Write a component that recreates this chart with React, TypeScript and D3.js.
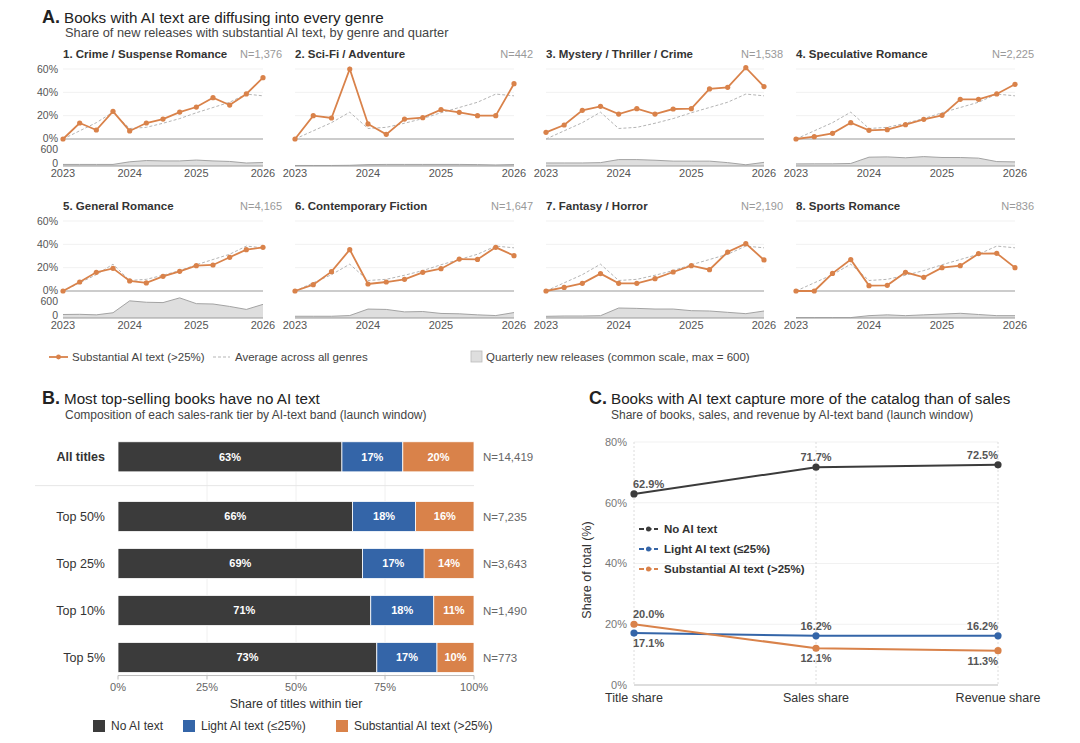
import React from "react";
import * as d3 from "d3";

// ---------- data ----------
const quarters = [
  "2023Q1", "2023Q2", "2023Q3", "2023Q4",
  "2024Q1", "2024Q2", "2024Q3", "2024Q4",
  "2025Q1", "2025Q2", "2025Q3", "2025Q4",
  "2026Q1",
];
const yearTicks = ["2023Q1", "2024Q1", "2025Q1", "2026Q1"];

const genreNames = [
  "1. Crime / Suspense Romance",
  "2. Sci-Fi / Adventure",
  "3. Mystery / Thriller / Crime",
  "4. Speculative Romance",
  "5. General Romance",
  "6. Contemporary Fiction",
  "7. Fantasy / Horror",
  "8. Sports Romance",
];
const genreN = [1376, 442, 1538, 2225, 4165, 1647, 2190, 836];

// share of new releases with substantial AI text (%)
const crimeSuspense = [0, 13.7, 7.7, 23.7, 6.9, 13.7, 17.1, 23.1, 27.4, 35.4, 29.1, 38.6, 52.6];
const sciFi = [0, 20, 18, 60, 12.9, 4, 17.1, 18.3, 25.1, 22.9, 20, 20, 47.4];
const mystery = [5.7, 12, 24.6, 28, 21.4, 26, 21.4, 25.7, 26, 42.9, 44.3, 61.1, 44.9];
const speculative = [0, 2, 4.9, 14, 7.4, 8, 12.3, 16.9, 20.3, 34, 34, 38.6, 46.9];
const generalRomance = [0, 7.7, 16, 19.4, 8.6, 6.9, 12.6, 16.9, 21.7, 22.3, 28.9, 35.4, 37.4];
const contemporary = [0, 5.4, 16.6, 35.4, 6, 7.7, 10, 16, 19.1, 27.4, 27.1, 37.4, 30.3];
const fantasy = [0, 3.1, 6.6, 14.9, 6.6, 6.6, 10.6, 16.3, 21.7, 18.3, 33.4, 40.6, 26.6];
const sports = [0, 0, 15.1, 26.9, 4.6, 4.9, 16, 11.7, 20, 21.7, 32, 32.3, 20];
const avgAllGenres = [0, 7, 14, 23, 9, 10, 13.5, 17.5, 22.5, 27, 31.5, 38.5, 37];

// quarterly new releases
const crimeVol = [45, 45, 45, 45, 120, 155, 145, 145, 170, 145, 130, 85, 100];
const sciFiVol = [15, 15, 15, 20, 40, 45, 45, 45, 45, 45, 40, 30, 42];
const mysteryVol = [87, 87, 87, 96, 183, 183, 165, 139, 139, 139, 96, 35, 104];
const specVol = [60, 62, 62, 72, 252, 260, 234, 268, 243, 242, 225, 126, 117];
const generalVol = [100, 105, 90, 150, 490, 450, 440, 575, 410, 400, 330, 245, 390];
const contempVol = [50, 50, 50, 70, 255, 245, 175, 185, 130, 120, 90, 70, 155];
const fantasyVol = [48, 57, 57, 66, 285, 275, 256, 256, 209, 200, 162, 124, 200];
const sportsVol = [12, 12, 12, 12, 67, 90, 67, 90, 112, 134, 100, 67, 67];

const genreShares = [crimeSuspense, sciFi, mystery, speculative, generalRomance, contemporary, fantasy, sports];
const genreVolumes = [crimeVol, sciFiVol, mysteryVol, specVol, generalVol, contempVol, fantasyVol, sportsVol];

const shareTicks = [0, 20, 40, 60];
const volumeTicks = [0, 600];

// panel B
const tiers = ["All titles", "Top 50%", "Top 25%", "Top 10%", "Top 5%"];
const tierNoAI = [62.9, 65.9, 68.7, 71.0, 72.7];
const tierLight = [17.1, 17.7, 17.3, 17.7, 16.9];
const tierSubstantial = [20.0, 16.4, 14.0, 11.3, 10.4];
const tierN = [14419, 7235, 3643, 1490, 773];
const pctTicks = [0, 25, 50, 75, 100];

// panel C
const metrics = ["Title share", "Sales share", "Revenue share"];
const noAIShare = [62.9, 71.7, 72.5];
const lightShare = [17.1, 16.2, 16.2];
const substantialShare = [20.0, 12.1, 11.3];
const totalTicks = [0, 20, 40, 60, 80];

// ---------- style ----------
const FONT = "'Liberation Sans', Arial, Helvetica, sans-serif";
const DARK = "#3b3b3b";
const BLUE = "#3465a8";
const ORANGE = "#d9824a";
const fmtN = d3.format(",");

// small-multiple layout
const cols: [number, number][] = [
  [63, 263],
  [295, 514],
  [546, 764],
  [796, 1015],
];
const rowOffset = [0, 152];

function GenrePanel({ i }: { i: number }) {
  const [x0, x1] = cols[i % 4];
  const dy = rowOffset[Math.floor(i / 4)];
  const x = d3.scalePoint<string>().domain(quarters).range([x0, x1]);
  const y = d3.scaleLinear().domain([0, 60]).range([139 + dy, 69 + dy]);
  const v = d3.scaleLinear().domain([0, 600]).range([166 + dy, 145 + dy]);
  const share = genreShares[i];
  const vol = genreVolumes[i];

  const line = d3
    .line<number>()
    .x((_, k) => x(quarters[k])!)
    .y((d) => y(d));
  const area = d3
    .area<number>()
    .x((_, k) => x(quarters[k])!)
    .y0(v(0))
    .y1((d) => v(d));
  const areaTop = d3
    .line<number>()
    .x((_, k) => x(quarters[k])!)
    .y((d) => v(d));

  const showY = i % 4 === 0;

  return (
    <g>
      <text x={x0} y={58 + dy} fontSize={11.5} fontWeight="bold" fill="#333">
        {genreNames[i]}
      </text>
      <text x={x1 + 19} y={58 + dy} fontSize={11} fill="#999" textAnchor="end">
        N={fmtN(genreN[i])}
      </text>
      {shareTicks.slice(1).map((t) => (
        <line key={t} x1={x0} x2={x1} y1={y(t)} y2={y(t)} stroke="#f1f1f1" strokeWidth={1} />
      ))}
      {showY &&
        shareTicks.map((t) => (
          <text key={t} x={x0 - 5} y={y(t) - (t === 0 ? 1 : 0)} dy="0.35em" fontSize={10.5} fill="#555" textAnchor="end">
            {t}%
          </text>
        ))}
      {showY &&
        volumeTicks.map((t) => (
          <text
            key={"v" + t}
            x={x0 - 5}
            y={v(t) + (t === 0 ? -3 : 4)}
            dy="0.35em"
            fontSize={10.5}
            fill="#555"
            textAnchor="end"
          >
            {t}
          </text>
        ))}
      <path d={area(vol)!} fill="#dedede" />
      <path d={areaTop(vol)!} fill="none" stroke="#a3a3a3" strokeWidth={1} />
      <line x1={x0} x2={x1} y1={v(0)} y2={v(0)} stroke="#999" strokeWidth={1.2} />
      <line x1={x0} x2={x1} y1={y(0)} y2={y(0)} stroke="#999" strokeWidth={1.2} />
      <path d={line(avgAllGenres)!} fill="none" stroke="#b5b5b5" strokeWidth={1} strokeDasharray="3,2" />
      <path d={line(share)!} fill="none" stroke={ORANGE} strokeWidth={1.8} />
      {share.map((d, k) => (
        <circle key={k} cx={x(quarters[k])} cy={y(d)} r={2.6} fill={ORANGE} />
      ))}
      {yearTicks.map((q) => (
        <text key={q} x={x(q)} y={173 + dy} dy="0.35em" fontSize={11} fill="#555" textAnchor="middle">
          {q.slice(0, 4)}
        </text>
      ))}
    </g>
  );
}

function PanelA() {
  return (
    <g>
      <text x={42} y={23} fill="#222">
        <tspan fontSize={18} fontWeight="bold">A.</tspan>
        <tspan fontSize={15.2} dx={4}>Books with AI text are diffusing into every genre</tspan>
      </text>
      <text x={65} y={37} fontSize={12.8} fill="#444">
        Share of new releases with substantial AI text, by genre and quarter
      </text>
      {genreNames.map((_, i) => (
        <GenrePanel key={i} i={i} />
      ))}
      {/* legend */}
      <line x1={49} x2={68} y1={357} y2={357} stroke={ORANGE} strokeWidth={1.8} />
      <circle cx={58.5} cy={357} r={2.4} fill={ORANGE} />
      <text x={72} y={357} dy="0.35em" fontSize={11.5} fill="#444">
        Substantial AI text (&gt;25%)
      </text>
      <line x1={213} x2={230} y1={357} y2={357} stroke="#b5b5b5" strokeWidth={1} strokeDasharray="3,2" />
      <text x={235} y={357} dy="0.35em" fontSize={11.5} fill="#444">
        Average across all genres
      </text>
      <rect x={471} y={351} width={11} height={11} fill="#dedede" stroke="#bbb" strokeWidth={0.8} />
      <text x={486} y={357} dy="0.35em" fontSize={11.5} fill="#444">
        Quarterly new releases (common scale, max = 600)
      </text>
    </g>
  );
}

function PanelB() {
  const x = d3.scaleLinear().domain([0, 100]).range([118, 474]);
  const tierBand = d3.scaleBand<string>().domain(tiers.slice(1)).range([493, 681]).paddingInner(0.36).paddingOuter(0.18);
  const bh = tierBand.bandwidth();
  const yTop = (k: number) =>
    k === 0 ? tierBand(tiers[1])! - tierBand.step() * 1.27 : tierBand(tiers[k])!;
  const axisY = tierBand(tiers[4])! + bh + 3;
  const sepY = (yTop(0) + bh + tierBand(tiers[1])!) / 2 - 1;

  const segs = [
    { vals: tierNoAI, color: DARK, start: (_: number) => 0 },
    { vals: tierLight, color: BLUE, start: (k: number) => tierNoAI[k] },
    { vals: tierSubstantial, color: ORANGE, start: (k: number) => tierNoAI[k] + tierLight[k] },
  ];

  return (
    <g>
      <text x={42} y={404} fill="#222">
        <tspan fontSize={18} fontWeight="bold">B.</tspan>
        <tspan fontSize={15.2} dx={4}>Most top-selling books have no AI text</tspan>
      </text>
      <text x={65} y={419} fontSize={12} fill="#444">
        Composition of each sales-rank tier by AI-text band (launch window)
      </text>
      {pctTicks.slice(1, 4).map((t) => (
        <line key={t} x1={x(t)} x2={x(t)} y1={yTop(0)} y2={axisY} stroke="#f0f0f0" strokeWidth={1} />
      ))}
      <line x1={35} x2={474} y1={sepY} y2={sepY} stroke="#e6e6e6" strokeWidth={1} />
      {tiers.map((tier, k) => {
        const y0 = yTop(k);
        return (
          <g key={tier}>
            <text
              x={105}
              y={y0 + bh / 2}
              dy="0.35em"
              fontSize={12.5}
              fontWeight={k === 0 ? "bold" : "normal"}
              fill="#333"
              textAnchor="end"
            >
              {tier}
            </text>
            {segs.map((s, si) => {
              const a = s.start(k);
              const w = s.vals[k];
              return (
                <g key={si}>
                  <rect
                    x={x(a)}
                    y={y0}
                    width={x(a + w) - x(a)}
                    height={bh}
                    fill={s.color}
                    stroke="#fff"
                    strokeWidth={0.8}
                  />
                  <text
                    x={x(a + w / 2)}
                    y={y0 + bh / 2}
                    dy="0.35em"
                    fontSize={11}
                    fontWeight="bold"
                    fill="#fff"
                    textAnchor="middle"
                  >
                    {Math.round(w)}%
                  </text>
                </g>
              );
            })}
            <text x={483} y={y0 + bh / 2} dy="0.35em" fontSize={11.5} fill="#666">
              N={fmtN(tierN[k])}
            </text>
          </g>
        );
      })}
      <line x1={x(0)} x2={x(100)} y1={axisY} y2={axisY} stroke="#bbb" strokeWidth={1} />
      {pctTicks.map((t) => (
        <g key={t}>
          <line x1={x(t)} x2={x(t)} y1={axisY} y2={axisY + 4} stroke="#bbb" strokeWidth={1} />
          <text x={x(t)} y={axisY + 12} dy="0.35em" fontSize={11} fill="#666" textAnchor="middle">
            {t}%
          </text>
        </g>
      ))}
      <text x={x(50)} y={704} dy="0.35em" fontSize={12.5} fill="#333" textAnchor="middle">
        Share of titles within tier
      </text>
      {[
        { label: "No AI text", color: DARK, lx: 93 },
        { label: "Light AI text (≤25%)", color: BLUE, lx: 183 },
        { label: "Substantial AI text (>25%)", color: ORANGE, lx: 336 },
      ].map((l) => (
        <g key={l.label}>
          <rect x={l.lx} y={720} width={12} height={12} fill={l.color} />
          <text x={l.lx + 18} y={726} dy="0.35em" fontSize={12} fill="#333">
            {l.label}
          </text>
        </g>
      ))}
    </g>
  );
}

function PanelC() {
  const x = d3.scalePoint<string>().domain(metrics).range([634, 998]);
  const y = d3.scaleLinear().domain([0, 80]).range([685, 442]);
  const line = d3
    .line<number>()
    .x((_, k) => x(metrics[k])!)
    .y((d) => y(d));

  const series = [
    { name: "No AI text", vals: noAIShare, color: DARK, below: [false, false, false] },
    { name: "Light AI text (≤25%)", vals: lightShare, color: BLUE, below: [true, false, false] },
    { name: "Substantial AI text (>25%)", vals: substantialShare, color: ORANGE, below: [false, true, true] },
  ];
  const anchors = ["start", "middle", "end"];
  const dxs = [-1, 0, 0];

  return (
    <g>
      <text x={589} y={404} fill="#222">
        <tspan fontSize={18} fontWeight="bold">C.</tspan>
        <tspan fontSize={15.2} dx={4}>Books with AI text capture more of the catalog than of sales</tspan>
      </text>
      <text x={611} y={419} fontSize={12} fill="#444">
        Share of books, sales, and revenue by AI-text band (launch window)
      </text>
      {totalTicks.slice(1).map((t) => (
        <line key={t} x1={634} x2={998} y1={y(t)} y2={y(t)} stroke="#f1f1f1" strokeWidth={1} />
      ))}
      {metrics.map((m) => (
        <line key={m} x1={x(m)} x2={x(m)} y1={y(80)} y2={y(0)} stroke="#dcdcdc" strokeWidth={1} strokeDasharray="2,2" />
      ))}
      <line x1={634} x2={998} y1={y(0)} y2={y(0)} stroke="#bbb" strokeWidth={1.2} />
      {totalTicks.map((t) => (
        <text key={t} x={627} y={y(t)} dy="0.35em" fontSize={11} fill="#777" textAnchor="end">
          {t}%
        </text>
      ))}
      <text
        transform={`translate(587,570) rotate(-90)`}
        fontSize={12.5}
        fill="#333"
        textAnchor="middle"
        dy="0.35em"
      >
        Share of total (%)
      </text>
      {metrics.map((m) => (
        <text key={m} x={x(m)} y={698} dy="0.35em" fontSize={12.5} fill="#333" textAnchor="middle">
          {m}
        </text>
      ))}
      {series.map((s) => (
        <g key={s.name}>
          <path d={line(s.vals)!} fill="none" stroke={s.color} strokeWidth={2} />
          {s.vals.map((d, k) => (
            <g key={k}>
              <circle cx={x(metrics[k])} cy={y(d)} r={3.6} fill={s.color} />
              <text
                x={x(metrics[k])! + dxs[k]}
                y={y(d) + (s.below[k] ? 10 : -10)}
                dy="0.35em"
                fontSize={11}
                fontWeight="bold"
                fill="#555"
                textAnchor={anchors[k]}
              >
                {d.toFixed(1)}%
              </text>
            </g>
          ))}
        </g>
      ))}
      {series.map((s, k) => {
        const ly = 529 + k * 20;
        return (
          <g key={"lg" + k}>
            <line x1={639} x2={658} y1={ly} y2={ly} stroke={s.color} strokeWidth={1.8} strokeDasharray="5,2.5" />
            <circle cx={648.5} cy={ly} r={2.5} fill={s.color} />
            <text x={664} y={ly} dy="0.35em" fontSize={11.5} fontWeight="bold" fill="#333">
              {s.name}
            </text>
          </g>
        );
      })}
    </g>
  );
}

export default function App() {
  return (
    <svg
      width={1080}
      height={743}
      style={{ position: "absolute", left: 0, top: 0, background: "#fff" }}
      fontFamily={FONT}
    >
      <rect width={1080} height={743} fill="#fff" />
      <PanelA />
      <PanelB />
      <PanelC />
    </svg>
  );
}
